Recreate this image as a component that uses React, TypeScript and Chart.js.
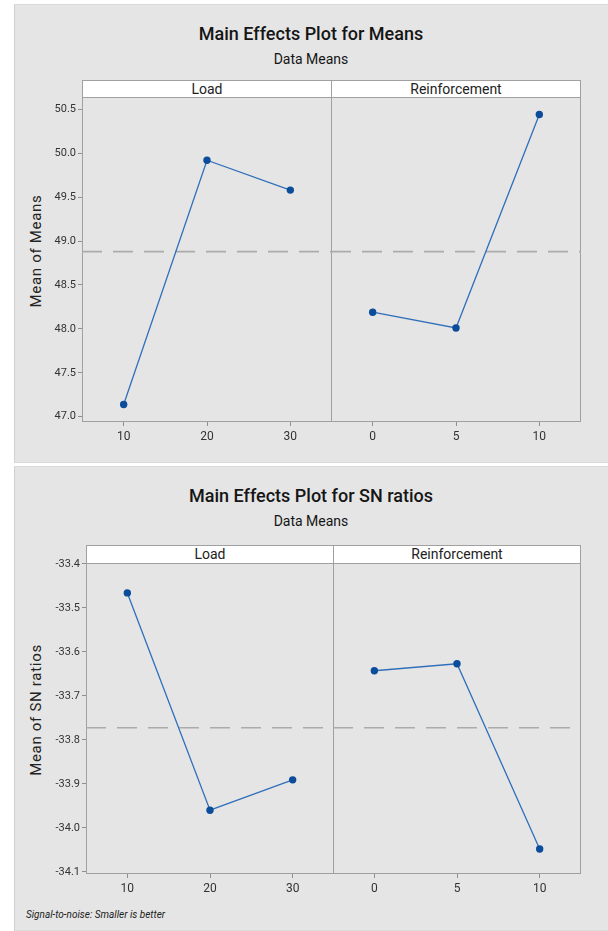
import React, { useEffect, useRef } from "react";
import { Chart, registerables } from "chart.js";

Chart.register(...registerables);

// ---------- data ----------
const loadLevels = [10, 20, 30];
const reinforcementLevels = [0, 5, 10];

const meansLoad = [47.14, 49.92, 49.58];
const meansReinforcement = [48.19, 48.01, 50.44];

const snLoad = [-33.466, -33.96, -33.891];
const snReinforcement = [-33.643, -33.627, -34.048];

const meansYTicks = [47.0, 47.5, 48.0, 48.5, 49.0, 49.5, 50.0, 50.5];
const snYTicks = [-34.1, -34.0, -33.9, -33.8, -33.7, -33.6, -33.5, -33.4];
const loadXTicks = [10, 20, 30];
const reinforcementXTicks = [0, 5, 10];

const factorNames = ["Load", "Reinforcement"];

const avg = (a: number[]) => a.reduce((s, v) => s + v, 0) / a.length;
const meansGrand = avg([...meansLoad, ...meansReinforcement]);
const snGrand = avg([...snLoad, ...snReinforcement]);

// ---------- styles ----------
const LINE = "#2f6fba";
const POINT = "#0b4c9b";
const FRAME = "#a0a0a0";
const TICK = "#8f8f8f";
const DASH = "#ababab";
const PANEL = "#e5e5e5";
const FONT = "Roboto, 'Noto Sans', sans-serif";

const framePlugin = {
  id: "frame",
  beforeDatasetsDraw(chart: any) {
    const { ctx, chartArea: a } = chart;
    ctx.save();
    ctx.strokeStyle = FRAME;
    ctx.lineWidth = 1;
    ctx.strokeRect(a.left + 0.5, a.top + 0.5, a.right - a.left - 1, a.bottom - a.top - 1);
    ctx.restore();
  },
};

type SubProps = {
  left: number;
  top: number;
  width: number;
  plotHeight: number;
  yAxisWidth: number;
  xs: number[];
  ys: number[];
  xMin: number;
  xMax: number;
  xTicks: number[];
  yMin: number;
  yMax: number;
  yTicks: number[];
  showY: boolean;
  grand: number;
};

const X_AXIS_H = 30;
const TOP_PAD = 10;

function SubPlot(p: SubProps) {
  const ref = useRef<HTMLCanvasElement>(null);
  useEffect(() => {
    const chart = new Chart(ref.current as HTMLCanvasElement, {
      type: "line",
      data: {
        datasets: [
          {
            data: p.xs.map((x, i) => ({ x, y: p.ys[i] })),
            borderColor: LINE,
            borderWidth: 1.3,
            pointRadius: 3.7,
            pointBackgroundColor: POINT,
            pointBorderColor: POINT,
            pointBorderWidth: 0,
            tension: 0,
          },
          {
            data: [
              { x: p.xMin, y: p.grand },
              { x: p.xMax, y: p.grand },
            ],
            borderColor: DASH,
            borderWidth: 1.6,
            borderDash: [20, 11],
            pointRadius: 0,
            tension: 0,
          },
        ],
      },
      options: {
        animation: false,
        responsive: false,
        maintainAspectRatio: false,
        devicePixelRatio: 1,
        events: [],
        layout: { padding: { top: TOP_PAD, left: 0, right: 0, bottom: 0 }, autoPadding: false },
        plugins: {
          legend: { display: false },
          tooltip: { enabled: false },
          title: { display: false },
        },
        scales: {
          x: {
            type: "linear",
            min: p.xMin,
            max: p.xMax,
            border: { display: false },
            grid: { display: true, drawOnChartArea: false, drawTicks: true, tickLength: 4, color: TICK },
            afterBuildTicks: (s: any) => {
              s.ticks = p.xTicks.map((v) => ({ value: v }));
            },
            afterFit: (s: any) => {
              s.height = X_AXIS_H;
            },
            ticks: {
              font: { family: FONT, size: 12 },
              color: "#333333",
              padding: 4,
              maxRotation: 0,
              autoSkip: false,
              callback: (v: any) => String(v),
            },
          },
          y: {
            type: "linear",
            display: p.showY,
            min: p.yMin,
            max: p.yMax,
            border: { display: false },
            grid: { display: true, drawOnChartArea: false, drawTicks: true, tickLength: 4, color: TICK },
            afterBuildTicks: (s: any) => {
              s.ticks = p.yTicks.map((v) => ({ value: v }));
            },
            afterFit: (s: any) => {
              s.width = p.yAxisWidth;
            },
            ticks: {
              font: { family: FONT, size: 11 },
              color: "#333333",
              padding: 2,
              autoSkip: false,
              callback: (v: any) => Number(v).toFixed(1),
            },
          },
        },
      } as any,
      plugins: [framePlugin],
    });
    return () => chart.destroy();
  }, []);
  const h = p.plotHeight + X_AXIS_H + TOP_PAD;
  return (
    <canvas
      ref={ref}
      width={p.width}
      height={h}
      style={{ position: "absolute", left: p.left, top: p.top - TOP_PAD, width: p.width, height: h }}
    />
  );
}

type PanelProps = {
  top: number;
  height: number;
  title: string;
  subtitle: string;
  yTitle: string;
  stripTop: number;
  plotTop: number;
  plotHeight: number;
  plotLeft: number;
  divider: number;
  yTicks: number[];
  yMin: number;
  yMax: number;
  loadValues: number[];
  reinfValues: number[];
  grand: number;
  caption?: string;
};

function Panel(p: PanelProps) {
  const canvasLeft = 20;
  const right = 581;
  const stripH = p.plotTop - p.stripTop + 1;
  const yTitleCenter = (p.stripTop + p.plotTop + p.plotHeight) / 2;
  return (
    <>
      <div
        style={{
          position: "absolute",
          left: 14,
          top: p.top,
          width: 594,
          height: p.height,
          background: PANEL,
          borderLeft: "1px solid #d0d0d0",
          borderTop: "1px solid #dadada",
          borderBottom: "1px solid #dadada",
          boxSizing: "border-box",
        }}
      />
      <div
        style={{
          position: "absolute",
          left: 14,
          width: 594,
          top: p.top + 21,
          height: 18,
          lineHeight: "18px",
          textAlign: "center",
          fontFamily: FONT,
          fontSize: 18,
          fontWeight: 500,
          color: "#151515",
          whiteSpace: "nowrap",
        }}
      >
        {p.title}
      </div>
      <div
        style={{
          position: "absolute",
          left: 14,
          width: 594,
          top: p.top + 48,
          height: 14,
          lineHeight: "14px",
          textAlign: "center",
          fontFamily: FONT,
          fontSize: 14,
          color: "#151515",
          whiteSpace: "nowrap",
        }}
      >
        {p.subtitle}
      </div>
      {[
        [p.plotLeft, p.divider + 1],
        [p.divider, right],
      ].map(([l, r], i) => (
        <div
          key={i}
          style={{
            position: "absolute",
            left: l,
            top: p.stripTop,
            width: r - l,
            height: stripH,
            boxSizing: "border-box",
            border: "1px solid " + FRAME,
            background: "#ffffff",
            textAlign: "center",
            lineHeight: stripH - 2 + "px",
            fontFamily: FONT,
            fontSize: 14,
            color: "#222222",
            whiteSpace: "nowrap",
          }}
        >
          {factorNames[i]}
        </div>
      ))}
      <div
        style={{
          position: "absolute",
          left: 36,
          top: yTitleCenter,
          transform: "translate(-50%, -50%) rotate(-90deg)",
          fontFamily: FONT,
          fontSize: 15,
          letterSpacing: "0.7px",
          color: "#222222",
          whiteSpace: "nowrap",
          lineHeight: "16px",
        }}
      >
        {p.yTitle}
      </div>
      <SubPlot
        left={canvasLeft}
        top={p.plotTop}
        width={p.divider + 1 - canvasLeft}
        plotHeight={p.plotHeight}
        yAxisWidth={p.plotLeft - canvasLeft}
        xs={loadLevels}
        ys={p.loadValues}
        xMin={5}
        xMax={35}
        xTicks={loadXTicks}
        yMin={p.yMin}
        yMax={p.yMax}
        yTicks={p.yTicks}
        showY={true}
        grand={p.grand}
      />
      <SubPlot
        left={p.divider}
        top={p.plotTop}
        width={right - p.divider}
        plotHeight={p.plotHeight}
        yAxisWidth={0}
        xs={reinforcementLevels}
        ys={p.reinfValues}
        xMin={-2.5}
        xMax={12.5}
        xTicks={reinforcementXTicks}
        yMin={p.yMin}
        yMax={p.yMax}
        yTicks={p.yTicks}
        showY={false}
        grand={p.grand}
      />
      {p.caption ? (
        <div
          style={{
            position: "absolute",
            left: 26,
            top: p.top + p.height - 22,
            lineHeight: "12px",
            fontFamily: FONT,
            fontSize: 10,
            fontStyle: "italic",
            color: "#222222",
            whiteSpace: "nowrap",
          }}
        >
          {p.caption}
        </div>
      ) : null}
    </>
  );
}

export default function App() {
  return (
    <div
      style={{
        position: "absolute",
        left: 0,
        top: 0,
        width: 608,
        height: 931,
        background: "#ffffff",
        overflow: "hidden",
      }}
    >
      <Panel
        top={4}
        height={459}
        title="Main Effects Plot for Means"
        subtitle="Data Means"
        yTitle="Mean of Means"
        stripTop={80}
        plotTop={97}
        plotHeight={325}
        plotLeft={82}
        divider={331}
        yTicks={meansYTicks}
        yMin={46.94}
        yMax={50.64}
        loadValues={meansLoad}
        reinfValues={meansReinforcement}
        grand={meansGrand}
      />
      <Panel
        top={466}
        height={465}
        title="Main Effects Plot for SN ratios"
        subtitle="Data Means"
        yTitle="Mean of SN ratios"
        stripTop={545}
        plotTop={563}
        plotHeight={311}
        plotLeft={86}
        divider={333}
        yTicks={snYTicks}
        yMin={-34.105}
        yMax={-33.398}
        loadValues={snLoad}
        reinfValues={snReinforcement}
        grand={snGrand}
        caption="Signal-to-noise: Smaller is better"
      />
    </div>
  );
}
